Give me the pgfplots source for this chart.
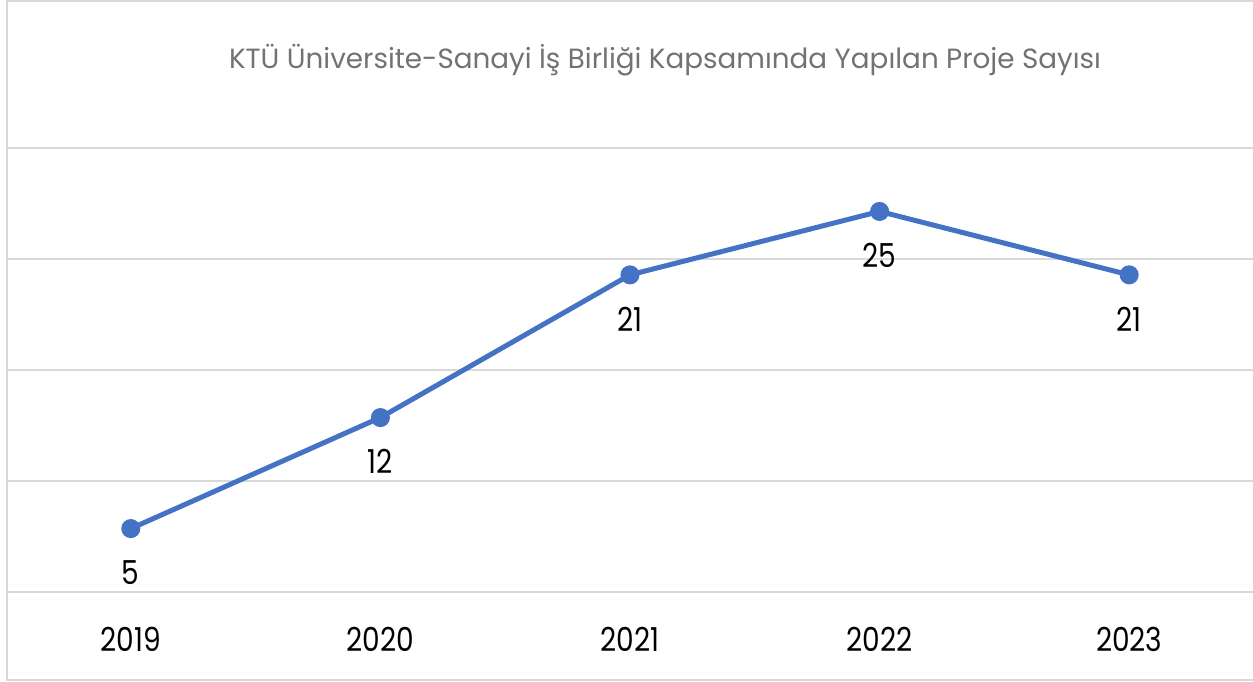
\documentclass[border=0pt]{standalone}
\usepackage{fontspec}
\setmainfont{Poppins}
\newfontfamily\numfont[FakeStretch=0.85]{Poppins}
\usepackage{pgfplots}
\pgfplotsset{compat=1.18}
\definecolor{lineblue}{HTML}{4472C4}
\definecolor{gridgray}{HTML}{D9D9D9}
\definecolor{titlegray}{HTML}{767171}
\begin{document}
\begin{tikzpicture}[x=1pt,y=1pt]
\useasboundingbox (0,0) rectangle (626.5,340.5);
% chart frame (cut off on the right)
\draw[gridgray, line width=1pt] (640,0.5) -- (3.5,0.5) -- (3.5,340) -- (640,340);
\begin{axis}[
    at={(3pt,44.5pt)}, anchor=south west,
    scale only axis, width=624pt, height=222pt,
    xmin=-0.5, xmax=4.5, ymin=1, ymax=29,
    ytick={1,8,15,22,29}, yticklabels={},
    ymajorgrids, grid style={gridgray, line width=1pt},
    axis line style={draw=none},
    major tick length=0pt,
    xtick={0,1,2,3,4},
    xticklabels={2019,2020,2021,2022,2023},
    xticklabel style={anchor=center, yshift=-23.5pt, font=\numfont\fontsize{16.5}{18}\selectfont},
    /pgf/number format/assume math mode=true,
    nodes near coords,
    every node near coord/.append style={anchor=center, yshift=-22pt, font=\numfont\fontsize{16.5}{18}\selectfont, text=black},
    clip=false,
]
\addplot[lineblue, line width=2.5pt, mark=*, mark size=3.5pt, mark options={fill=lineblue, draw=lineblue}]
  coordinates {(0,5) (1,12) (2,21) (3,25) (4,21)};
\end{axis}
\node[text=titlegray, font=\fontsize{13.9}{16}\selectfont] at (332.5,310.5) {KTÜ Üniversite-Sanayi İş Birliği Kapsamında Yapılan Proje Sayısı};
\end{tikzpicture}
\end{document}
